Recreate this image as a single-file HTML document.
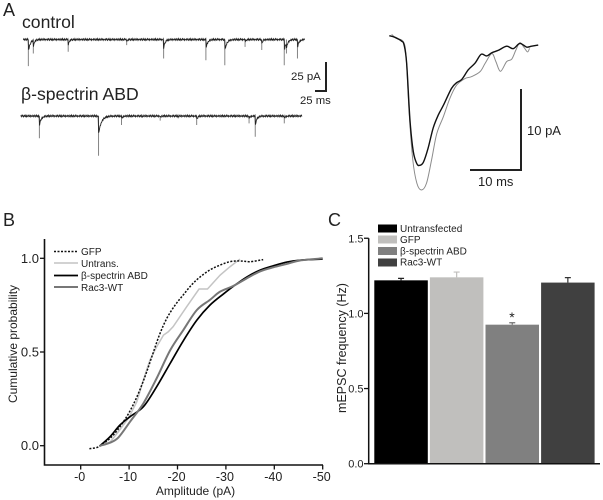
<!DOCTYPE html>
<html lang="en">
<head>
<meta charset="utf-8">
<title>mEPSC recordings, amplitude distribution and frequency</title>
<style>
html,body{margin:0;padding:0;background:#fff;}
svg{display:block;filter:blur(0.3px);}
text{font-family:"Liberation Sans",sans-serif;fill:#222;}
</style>
</head>
<body>
<svg id="fig" width="603" height="500" viewBox="0 0 603 500" xmlns="http://www.w3.org/2000/svg">
  <rect width="603" height="500" fill="#fff"/>

  <g id="panel-a">
    <text x="3" y="16" font-size="18">A</text>
    <text x="22" y="28" font-size="17.6">control</text>
    <text x="21" y="100" font-size="17.6">β-spectrin ABD</text>
    <path d="M326 62V91H315" fill="none" stroke="#222" stroke-width="2"/>
    <text x="291" y="80" font-size="11.4">25 pA</text>
    <text x="300" y="104" font-size="11.3">25 ms</text>
    <path d="M521 89V170H470" fill="none" stroke="#222" stroke-width="2"/>
    <text x="527" y="135" font-size="13">10 pA</text>
    <text x="478" y="186" font-size="13">10 ms</text>
  </g>

  <g id="panel-b">
    <text x="3" y="226" font-size="18">B</text>
    <path d="M44.5 239V465H323" fill="none" stroke="#111" stroke-width="1.6"/>
    <text transform="translate(17 344) rotate(-90)" text-anchor="middle" font-size="12">Cumulative probability</text>
    <text x="195.500" y="495" text-anchor="middle" font-size="12">Amplitude (pA)</text>
    <g font-size="10">
      <line x1="54" x2="78" y1="251.500" y2="251.500" stroke="#111" stroke-width="1.6" stroke-dasharray="2 1.500"/>
      <text x="81" y="255">GFP</text>
      <line x1="54" x2="78" y1="263" y2="263" stroke="#c4c4c4" stroke-width="1.6"/>
      <text x="81" y="267">Untrans.</text>
      <line x1="54" x2="78" y1="275.500" y2="275.500" stroke="#000" stroke-width="1.8"/>
      <text x="81" y="279">β-spectrin ABD</text>
      <line x1="54" x2="78" y1="287" y2="287" stroke="#777" stroke-width="2"/>
      <text x="81" y="291">Rac3-WT</text>
    </g>
  </g>

  <g id="panel-c">
    <text x="328" y="226" font-size="18">C</text>
    <text transform="translate(346 348) rotate(-90)" text-anchor="middle" font-size="12.5">mEPSC frequency (Hz)</text>
    <g font-size="10">
      <rect x="378" y="224.500" width="19" height="8" fill="#000"/>
      <text x="400" y="232">Untransfected</text>
      <rect x="378" y="235.500" width="19" height="8" fill="#c0bfbd"/>
      <text x="400" y="243">GFP</text>
      <rect x="378" y="247" width="19" height="8" fill="#808080"/>
      <text x="400" y="254.500">β-spectrin ABD</text>
      <rect x="378" y="258.500" width="19" height="8" fill="#404040"/>
      <text x="400" y="265.500">Rac3-WT</text>
    </g>
    <text x="512" y="322" text-anchor="middle" font-size="14">*</text>
  </g>
</svg>
<script>
// Panel A: raw recordings (time in ms, event amplitude in pA)
const controlEventTimes = [11.4, 22.7, 102, 235, 319, 415, 458, 504, 542, 593, 598, 623];
const controlEventAmps = [22.8, 12, 10.5, 4.8, 16.2, 17.7, 22, 6.3, 9, 22, 12, 16.2];
const spectrinEventTimes = [42.4, 177, 229, 275, 317, 358, 400, 519, 533, 599];
const spectrinEventAmps = [19, 34, 7.7, 1.5, 4, 2, 7.7, 6.3, 17.7, 6.3];
const baselineNoise = [0.3, -0.5, 0.6, -0.2, -0.7, 0.4, 0.8, -0.4, 0.1, -0.8, 0.5, -0.1, 0.7, -0.6, 0.2, 0.6, -0.3, -0.8, 0.4, 0.1, -0.5, 0.7, -0.2, 0.3];

// Panel A: averaged events
const avgBlackTime = [0, 1.1, 2.4, 2.9, 3.4, 4.05, 4.7, 5.4, 6.0, 6.7, 7.6, 8.6, 9.6, 10.6, 12.2, 13.2, 14.2, 15.5, 16.8, 18.0, 19.1, 20.1, 21.4, 23.0, 24.3, 25.6, 26.9, 27.9, 29.2];
const avgBlackCurrent = [0, -0.2, -0.66, -1.15, -3.4, -10.4, -14.3, -15.8, -16.0, -15.6, -13.9, -11.4, -9.8, -8.6, -6.5, -5.8, -5.4, -4.2, -3.4, -2.3, -2.5, -2.1, -1.8, -1.3, -1.6, -0.95, -1.4, -1.3, -1.15];
const avgGrayTime = [0.46, 1.4, 2.75, 3.3, 3.9, 4.6, 5.4, 6.3, 7.3, 8.3, 9.3, 10.6, 11.9, 13.2, 14.8, 16.1, 17.8, 18.8, 20.1, 20.9, 21.8, 23.0, 24.0, 24.8, 25.6, 26.4, 27.1, 27.5];
const avgGrayCurrent = [0.16, -0.33, -0.74, -2.6, -9.6, -15.3, -18.2, -19.05, -18.2, -15.3, -12.1, -10, -7.7, -6.1, -5.3, -5.06, -4.44, -3.4, -2.2, -3.2, -4.4, -3.2, -2.9, -1.8, -0.86, -1.44, -2, -1.56];

// Panel B: cumulative distributions
const cdfXTicks = [0, 10, 20, 30, 40, 50];
const cdfXTickLabels = ['-0', '-10', '-20', '-30', '-40', '-50'];
const cdfYTicks = [0, 0.5, 1];
const cdfYTickLabels = ['0.0', '0.5', '1.0'];
const gfpAmp = [1.8, 3.3, 4.3, 6.1, 7.8, 9.85, 11.6, 13.3, 14.7, 16.25, 17.8, 19.5, 21.2, 22.9, 24.65, 26.7, 28.8, 30.85, 32.9, 35, 37.7];
const gfpProb = [-0.016, -0.01, 0.004, 0.04, 0.09, 0.17, 0.26, 0.37, 0.475, 0.59, 0.68, 0.75, 0.805, 0.858, 0.9, 0.938, 0.964, 0.982, 0.986, 0.982, 0.993];
const untransAmp = [4.3, 6.1, 7.8, 9.85, 11.6, 12.95, 14.3, 15.7, 17.1, 18.1, 19.1, 21.9, 24.45, 26.2, 28.8, 30.85, 32.9];
const untransProb = [0.002, 0.02, 0.075, 0.146, 0.235, 0.35, 0.457, 0.528, 0.59, 0.608, 0.635, 0.742, 0.836, 0.836, 0.91, 0.955, 0.996];
const abdAmp = [4, 6.06, 8.1, 10.2, 12.95, 15.7, 18.5, 21.2, 24, 26.7, 29.5, 31.5, 34.3, 37.05, 39.8, 42.6, 45.3, 50];
const abdProb = [0, 0.048, 0.11, 0.155, 0.208, 0.315, 0.44, 0.56, 0.67, 0.75, 0.81, 0.85, 0.9, 0.937, 0.96, 0.98, 0.99, 0.996];
const racAmp = [4, 6.06, 7.8, 10.2, 12.95, 15.7, 18.5, 21.2, 24, 26.7, 28.8, 31.5, 34.3, 37.05, 39.8, 42.6, 45.3, 50];
const racProb = [0, 0.016, 0.044, 0.128, 0.226, 0.36, 0.51, 0.617, 0.724, 0.778, 0.822, 0.852, 0.893, 0.93, 0.952, 0.97, 0.988, 1];

// Panel C: frequency bars
const barCategories = ['untransfected', 'gfp', 'spectrin-abd', 'rac3-wt'];
const barValues = [1.22, 1.24, 0.925, 1.205];
const barErrors = [0.013, 0.035, 0.013, 0.033];
const freqTicks = [0, 0.5, 1, 1.5];
const freqTickLabels = ['0.0', '0.5', '1.0', '1.5'];

const NS = 'http://www.w3.org/2000/svg';
const panelA = document.getElementById('panel-a');
const panelB = document.getElementById('panel-b');
const panelC = document.getElementById('panel-c');

function make(tag, parent, attrs) {
  const el = document.createElementNS(NS, tag);
  for (const k in attrs) el.setAttribute(k, attrs[k]);
  parent.appendChild(el);
  return el;
}
function pathFrom(xs, ys, fx, fy) {
  return xs.map((v, i) => (i ? 'L' : 'M') + fx(v).toFixed(2) + ' ' + fy(ys[i]).toFixed(2)).join('');
}
// Smooth curve through the data points (Catmull-Rom to Bezier).
function smoothFrom(xs, ys, fx, fy) {
  const p = xs.map((v, i) => [fx(v), fy(ys[i])]);
  let d = 'M' + p[0][0].toFixed(2) + ' ' + p[0][1].toFixed(2);
  for (let i = 0; i < p.length - 1; i++) {
    const a = p[Math.max(i - 1, 0)], b = p[i], c = p[i + 1], e = p[Math.min(i + 2, p.length - 1)];
    d += 'C' + (b[0] + (c[0] - a[0]) / 6).toFixed(2) + ' ' + (b[1] + (c[1] - a[1]) / 6).toFixed(2) + ' ' +
      (c[0] - (e[0] - b[0]) / 6).toFixed(2) + ' ' + (c[1] - (e[1] - b[1]) / 6).toFixed(2) + ' ' +
      c[0].toFixed(2) + ' ' + c[1].toFixed(2);
  }
  return d;
}

// --- Raw traces: dark noisy baseline with tails, thin lighter spikes ---
function tracePath(x0, y0, times, amps) {
  const fx = t => x0 + t * 0.44;
  const fy = a => y0 + a * 1.17;
  const end = 640;
  let d = '';
  let n = 0;
  for (let t = 0; t <= end; t += 1.1) {
    let v = baselineNoise[n % baselineNoise.length];
    n++;
    times.forEach((et, i) => {
      const tau = 0.8 + amps[i] * 0.16;
      if (t >= et) v += amps[i] * 0.45 * Math.exp(-(t - et) / tau);
    });
    d += (d ? 'L' : 'M') + fx(t).toFixed(2) + ' ' + fy(v).toFixed(2);
  }
  return d;
}
function spikePath(x0, y0, times, amps) {
  return times.map((et, i) => {
    const x = (x0 + et * 0.44).toFixed(2);
    return 'M' + x + ' ' + y0 + 'L' + x + ' ' + (y0 + amps[i] * 1.17).toFixed(2);
  }).join('');
}
const controlSpikes = make('path', panelA, {d: spikePath(23.3, 39.5, controlEventTimes, controlEventAmps), fill: 'none', stroke: '#777', 'stroke-width': 0.9});


const controlTrace = make('path', panelA, {d: tracePath(23.3, 39.5, controlEventTimes, controlEventAmps), fill: 'none', stroke: '#222', 'stroke-width': 0.9});


const spectrinSpikes = make('path', panelA, {d: spikePath(20.7, 116, spectrinEventTimes, spectrinEventAmps), fill: 'none', stroke: '#777', 'stroke-width': 0.9});


const spectrinTrace = make('path', panelA, {d: tracePath(20.7, 116, spectrinEventTimes, spectrinEventAmps), fill: 'none', stroke: '#222', 'stroke-width': 0.9});



// --- Averaged events ---
const avgX = t => 389.3 + t * 5.1;
const avgY = c => 35.7 - c * 8.1;
const avgGray = make('path', panelA, {d: smoothFrom(avgGrayTime, avgGrayCurrent, avgX, avgY), fill: 'none', stroke: '#8c8c8c', 'stroke-width': 1});


const avgBlack = make('path', panelA, {d: smoothFrom(avgBlackTime, avgBlackCurrent, avgX, avgY), fill: 'none', stroke: '#111', 'stroke-width': 1.4});



// --- CDF chart ---
const cdfX = a => 80.7 + a * 4.84;
const cdfY = p => 445.7 - p * 187.4;
cdfXTicks.forEach((v, i) => {
  const tick = make('line', panelB, {x1: cdfX(v), x2: cdfX(v), y1: 465, y2: 469.5, stroke: '#111', 'stroke-width': 1.3});
  
  
  const label = make('text', panelB, {x: cdfX(v) - 1, y: 481, 'text-anchor': 'middle', 'font-size': 12.5});
  label.textContent = cdfXTickLabels[i];
  
  
});
cdfYTicks.forEach((v, i) => {
  const tick = make('line', panelB, {x1: 40, x2: 44.5, y1: cdfY(v), y2: cdfY(v), stroke: '#111', 'stroke-width': 1.3});
  
  
  const label = make('text', panelB, {x: 39, y: cdfY(v) + 4.5, 'text-anchor': 'end', 'font-size': 13});
  label.textContent = cdfYTickLabels[i];
  
  
});
const untransLine = make('path', panelB, {d: pathFrom(untransAmp, untransProb, cdfX, cdfY), fill: 'none', stroke: '#c4c4c4', 'stroke-width': 1.5});


const gfpLine = make('path', panelB, {d: smoothFrom(gfpAmp, gfpProb, cdfX, cdfY), fill: 'none', stroke: '#111', 'stroke-width': 1.5, 'stroke-dasharray': '2 1.5'});


const abdLine = make('path', panelB, {d: smoothFrom(abdAmp, abdProb, cdfX, cdfY), fill: 'none', stroke: '#000', 'stroke-width': 1.7});


const racLine = make('path', panelB, {d: smoothFrom(racAmp, racProb, cdfX, cdfY), fill: 'none', stroke: '#777', 'stroke-width': 2});



// --- Bar chart ---
const freqY = v => 463.7 - v * 150.3;
const barX = i => 374.3 + i * 55.6;
const barW = 53.5;
const barFills = ['#000000', '#c0bfbd', '#808080', '#404040'];
const errColors = ['#222222', '#c0bfbd', '#707070', '#333333'];
barValues.forEach((v, i) => {
  const cx = barX(i) + barW / 2;
  const top = freqY(v + barErrors[i]);
  const err = make('path', panelC, {d: 'M' + cx + ' ' + freqY(v) + 'V' + top + 'M' + (cx - 3) + ' ' + top + 'H' + (cx + 3), fill: 'none', stroke: errColors[i], 'stroke-width': 1.2});
  
  
  const bar = make('rect', panelC, {x: barX(i), y: freqY(v), width: barW, height: freqY(0) - freqY(v), fill: barFills[i]});
  
  
});
const freqAxes = make('path', panelC, {d: 'M368.7 ' + freqY(1.5) + 'V' + freqY(0) + 'H600', fill: 'none', stroke: '#111', 'stroke-width': 1.5});


freqTicks.forEach((v, i) => {
  const tick = make('line', panelC, {x1: 364, x2: 368.7, y1: freqY(v), y2: freqY(v), stroke: '#111', 'stroke-width': 1.3});
  
  
  const label = make('text', panelC, {x: 363.5, y: freqY(v) + 4, 'text-anchor': 'end', 'font-size': 11});
  label.textContent = freqTickLabels[i];
  
  
});
</script>
</body>
</html>
